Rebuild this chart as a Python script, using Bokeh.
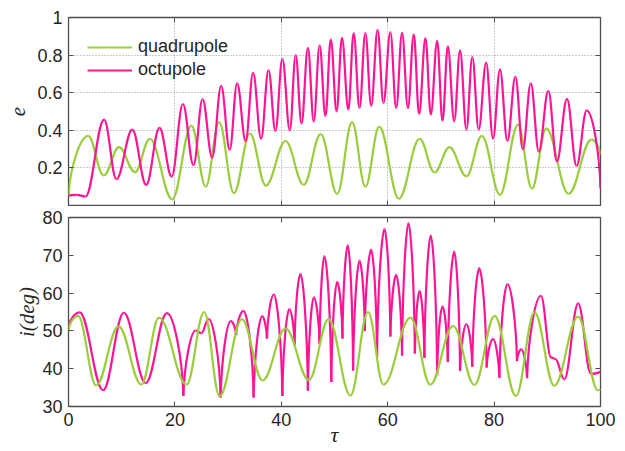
from bokeh.plotting import figure
from bokeh.models import (Range1d, FixedTicker, LinearAxis, Legend, LegendItem,
                          CustomJSTickFormatter, ColumnDataSource)
from bokeh.layouts import column
from bokeh.embed import file_html
from bokeh.resources import INLINE

# ---------------- data (extrema of each curve) ----------------
tau_ticks = [0, 20, 40, 60, 80, 100]
e_ticks = [0.2, 0.4, 0.6, 0.8, 1.0]
i_ticks = [30, 40, 50, 60, 70, 80]

series_names = ["quadrupole", "octupole"]

# eccentricity, quadrupole
e_quad_tau = [0.0, 3.7, 6.6, 9.5, 12.5, 15.3, 19.5, 23.1, 25.8, 28.3, 31.1, 34.1, 37.1,
              40.8, 44.2, 47.4, 50.5, 53.3, 55.8, 58.4, 62.1, 66.0, 68.8, 71.6, 74.8,
              77.7, 81.1, 84.5, 87.1, 89.8, 94.0, 98.3, 100.0]
e_quad_val = [0.05, 0.37, 0.16, 0.31, 0.177, 0.355, 0.033, 0.425, 0.10, 0.443, 0.066,
              0.383, 0.106, 0.343, 0.11, 0.38, 0.062, 0.443, 0.10, 0.42, 0.036, 0.355,
              0.176, 0.31, 0.155, 0.37, 0.057, 0.43, 0.09, 0.41, 0.062, 0.35, 0.27]

# eccentricity, octupole
e_oct_tau = [0.0, 1.5, 3.2, 6.7, 9.0, 12.0, 14.6, 17.1, 19.4, 21.5, 23.5, 25.2, 27.0,
             28.7, 30.3, 31.7, 33.3, 34.7, 36.2, 37.6, 38.9, 40.2, 41.6, 42.7, 43.8,
             45.0, 46.1, 47.2, 48.3, 49.3, 50.4, 51.4, 52.6, 53.6, 54.7, 55.8, 56.9,
             58.1, 59.2, 60.5, 61.6, 62.7, 63.8, 64.9, 65.9, 67.1, 68.1, 69.3, 70.3,
             71.3, 72.5, 73.6, 74.8, 75.9, 77.1, 78.5, 79.8, 81.1, 82.5, 84.0, 85.4,
             86.9, 88.4, 90.2, 91.8, 93.7, 95.5, 97.4, 100.0]
e_oct_val = [0.05, 0.057, 0.048, 0.457, 0.14, 0.404, 0.11, 0.413, 0.154, 0.54, 0.215,
             0.566, 0.255, 0.636, 0.296, 0.65, 0.343, 0.706, 0.355, 0.72, 0.396, 0.78,
             0.40, 0.80, 0.435, 0.838, 0.446, 0.852, 0.475, 0.884, 0.50, 0.892, 0.51,
             0.917, 0.518, 0.917, 0.53, 0.934, 0.545, 0.922, 0.518, 0.918, 0.518, 0.91,
             0.487, 0.89, 0.483, 0.876, 0.45, 0.846, 0.448, 0.825, 0.404, 0.79, 0.404,
             0.76, 0.357, 0.724, 0.343, 0.685, 0.30, 0.65, 0.287, 0.61, 0.234, 0.567,
             0.21, 0.506, 0.09]

# inclination (deg), quadrupole
i_quad_tau = [0.0, 1.8, 5.2, 9.4, 13.7, 17.0, 22.2, 25.5, 28.4, 32.6, 36.5, 40.8, 45.2,
              48.9, 53.0, 56.3, 59.2, 64.3, 68.0, 72.3, 76.3, 80.1, 84.1, 87.6, 91.3,
              95.8, 99.5, 100.0]
i_quad_val = [50.3, 54.0, 35.6, 51.2, 35.8, 53.5, 35.8, 55.0, 32.7, 53.1, 36.9, 50.6,
              37.0, 53.1, 32.9, 55.0, 35.8, 53.5, 35.8, 51.3, 35.7, 54.0, 32.8, 54.9,
              35.5, 53.8, 34.3, 34.6]

# inclination (deg), octupole
i_oct_tau = [0.0, 2.1, 6.5, 10.4, 14.5, 18.5, 21.6, 23.9, 25.0, 26.3, 28.6, 30.5, 31.5,
             32.9, 34.8, 36.4, 37.3, 38.6, 40.2, 41.5, 42.5, 43.6, 45.0, 46.1, 47.2,
             48.1, 49.4, 50.5, 51.5, 52.5, 53.5, 54.7, 55.7, 56.9, 58.0, 59.4, 60.5,
             61.6, 62.7, 63.9, 65.1, 66.0, 66.9, 68.1, 69.3, 70.3, 71.3, 72.5, 73.6,
             74.8, 75.9, 77.2, 78.6, 79.8, 81.0, 82.5, 84.3, 85.1, 86.2, 88.8, 90.7,
             91.5, 93.2, 95.8, 98.2, 100.0]
i_oct_val = [51.0, 54.9, 34.3, 54.8, 36.2, 54.7, 32.8, 50.1, 49.4, 53.2, 32.4, 52.6, 48.9,
             55.3, 32.4, 53.9, 48.0, 59.7, 32.8, 55.8, 46.3, 65.1, 34.2, 58.9, 46.5,
             69.8, 36.5, 63.0, 48.0, 72.7, 39.5, 68.6, 50.0, 71.5, 43.2, 77.0, 48.5,
             64.8, 43.5, 78.5, 44.0, 60.6, 42.9, 75.2, 38.5, 56.5, 41.8, 71.0, 39.4,
             51.8, 40.5, 66.6, 40.3, 47.8, 37.6, 62.4, 42.0, 45.1, 37.5, 59.3, 43.0,
             42.6, 37.2, 57.3, 38.6, 39.3]
# which extrema of the octupole inclination are sharp cusps (1) rather than rounded (0)
i_oct_cusp = [1, 0, 0, 0, 0, 0, 1, 0, 0, 0, 1, 0, 1,
              0, 1, 0, 1, 0, 1, 0, 1, 0, 1, 0, 1,
              0, 1, 0, 1, 0, 1, 0, 1, 0, 1, 0, 1,
              0, 1, 0, 1, 0, 1, 0, 1, 0, 1, 0, 1,
              0, 1, 0, 1, 0, 1, 0, 1, 0, 1, 0, 0,
              0, 0, 0, 0, 1]

# ---------------- style ----------------
MAGENTA = "#FF1493"
GREEN = "#9ACD3C"
AXC = "#4d4d4d"
TXT = "#262626"
SANS = "Liberation Sans"
SERIF = "Liberation Serif"


def ends_cusp(n):
    return [1] + [0] * (n - 2) + [1]


def bezier_source(xs, ys, cusp):
    d = dict(x0=[], y0=[], x1=[], y1=[], cx0=[], cy0=[], cx1=[], cy1=[])
    for j in range(len(xs) - 1):
        ax_, ay_, bx_, by_ = xs[j], ys[j], xs[j + 1], ys[j + 1]
        dx, dy = bx_ - ax_, by_ - ay_
        if cusp[j]:
            c0 = (ax_ + 0.08 * dx, ay_ + 0.5 * dy)
        else:
            c0 = (ax_ + 0.38 * dx, ay_)
        if cusp[j + 1]:
            c1 = (bx_ - 0.08 * dx, by_ - 0.5 * dy)
        else:
            c1 = (bx_ - 0.38 * dx, by_)
        d["x0"].append(ax_); d["y0"].append(ay_)
        d["x1"].append(bx_); d["y1"].append(by_)
        d["cx0"].append(c0[0]); d["cy0"].append(c0[1])
        d["cx1"].append(c1[0]); d["cy1"].append(c1[1])
    return ColumnDataSource(d)


def style_axis(ax, ticks, labels=True, formatter=None):
    ax.ticker = FixedTicker(ticks=ticks)
    ax.axis_line_color = None
    ax.major_tick_in = 5
    ax.major_tick_out = 0
    ax.major_tick_line_color = AXC
    ax.major_tick_line_width = 1
    ax.minor_tick_line_color = None
    if labels:
        ax.major_label_text_font = SANS
        ax.major_label_text_font_size = "18px"
        ax.major_label_text_color = TXT
        ax.major_label_standoff = 6
        if formatter is not None:
            ax.formatter = formatter
    else:
        ax.major_label_text_color = None
        ax.major_label_standoff = 0


def make_fig(height, yr, btop, bbot):
    p = figure(width=615, height=height, x_range=Range1d(0, 100), y_range=Range1d(*yr),
               output_backend="svg", toolbar_location=None,
               min_border_left=68, min_border_right=15,
               min_border_top=btop, min_border_bottom=bbot)
    p.outline_line_color = AXC
    p.outline_line_width = 1.3
    p.background_fill_color = "white"
    p.border_fill_color = "white"
    return p


def draw_curve(p, src, color):
    return p.bezier(x0="x0", y0="y0", x1="x1", y1="y1", cx0="cx0", cy0="cy0",
                    cx1="cx1", cy1="cy1", source=src, line_color=color, line_width=2.2)


# ---------------- top panel: e ----------------
p1 = make_fig(206, (0.0, 1.0), 17, 1)
style_axis(p1.xaxis[0], tau_ticks, labels=False)
style_axis(p1.yaxis[0], e_ticks, formatter=CustomJSTickFormatter(code="return String(tick);"))
p1.yaxis[0].axis_label = "e"
p1.yaxis[0].axis_label_text_font = SERIF
p1.yaxis[0].axis_label_text_font_style = "italic"
p1.yaxis[0].axis_label_text_font_size = "21px"
p1.yaxis[0].axis_label_text_color = TXT
p1.yaxis[0].axis_label_standoff = 9
ax_r1 = LinearAxis()
style_axis(ax_r1, e_ticks, labels=False)
p1.add_layout(ax_r1, "right")
ax_t1 = LinearAxis()
style_axis(ax_t1, tau_ticks, labels=False)
p1.add_layout(ax_t1, "above")

p1.xgrid.ticker = FixedTicker(ticks=[20, 40, 60, 80])
p1.ygrid.ticker = FixedTicker(ticks=[0.2, 0.4, 0.6, 0.8])
for g in (p1.xgrid, p1.ygrid):
    g.grid_line_color = "#9a9a9a"
    g.grid_line_dash = "1 2"
    g.grid_line_width = 1

src_eq = bezier_source(e_quad_tau, e_quad_val, ends_cusp(len(e_quad_tau)))
src_eo = bezier_source(e_oct_tau, e_oct_val, ends_cusp(len(e_oct_tau)))
r_eq = draw_curve(p1, src_eq, GREEN)
r_eo = draw_curve(p1, src_eo, MAGENTA)

legend = Legend(items=[LegendItem(label=series_names[0], renderers=[r_eq]),
                       LegendItem(label=series_names[1], renderers=[r_eo])],
                location="top_left")
legend.margin = 10
legend.padding = 9
legend.spacing = 2
legend.glyph_width = 45
legend.glyph_height = 20
legend.label_standoff = 6
legend.label_text_font = SANS
legend.label_text_font_size = "18px"
legend.label_text_color = TXT
legend.background_fill_alpha = 0
legend.border_line_alpha = 0
p1.add_layout(legend)

# ---------------- bottom panel: i ----------------
p2 = make_fig(244, (30, 80), 11, 44)
style_axis(p2.xaxis[0], tau_ticks)
style_axis(p2.yaxis[0], i_ticks)
p2.xaxis[0].axis_label = "τ"
p2.xaxis[0].axis_label_text_font = SERIF
p2.xaxis[0].axis_label_text_font_style = "italic"
p2.xaxis[0].axis_label_text_font_size = "22px"
p2.xaxis[0].axis_label_text_color = TXT
p2.xaxis[0].axis_label_standoff = -7
p2.yaxis[0].axis_label = "i(deg)"
p2.yaxis[0].axis_label_text_font = SERIF
p2.yaxis[0].axis_label_text_font_style = "italic"
p2.yaxis[0].axis_label_text_font_size = "21px"
p2.yaxis[0].axis_label_text_color = TXT
p2.yaxis[0].axis_label_standoff = 0
ax_r2 = LinearAxis()
style_axis(ax_r2, i_ticks, labels=False)
p2.add_layout(ax_r2, "right")
ax_t2 = LinearAxis()
style_axis(ax_t2, tau_ticks, labels=False)
p2.add_layout(ax_t2, "above")
p2.xgrid.visible = False
p2.ygrid.visible = False

src_iq = bezier_source(i_quad_tau, i_quad_val, ends_cusp(len(i_quad_tau)))
src_io = bezier_source(i_oct_tau, i_oct_val, i_oct_cusp)
draw_curve(p2, src_io, MAGENTA)
draw_curve(p2, src_iq, GREEN)

layout = column(p1, p2, spacing=0)
open("out.html", "w").write(file_html(layout, INLINE))
